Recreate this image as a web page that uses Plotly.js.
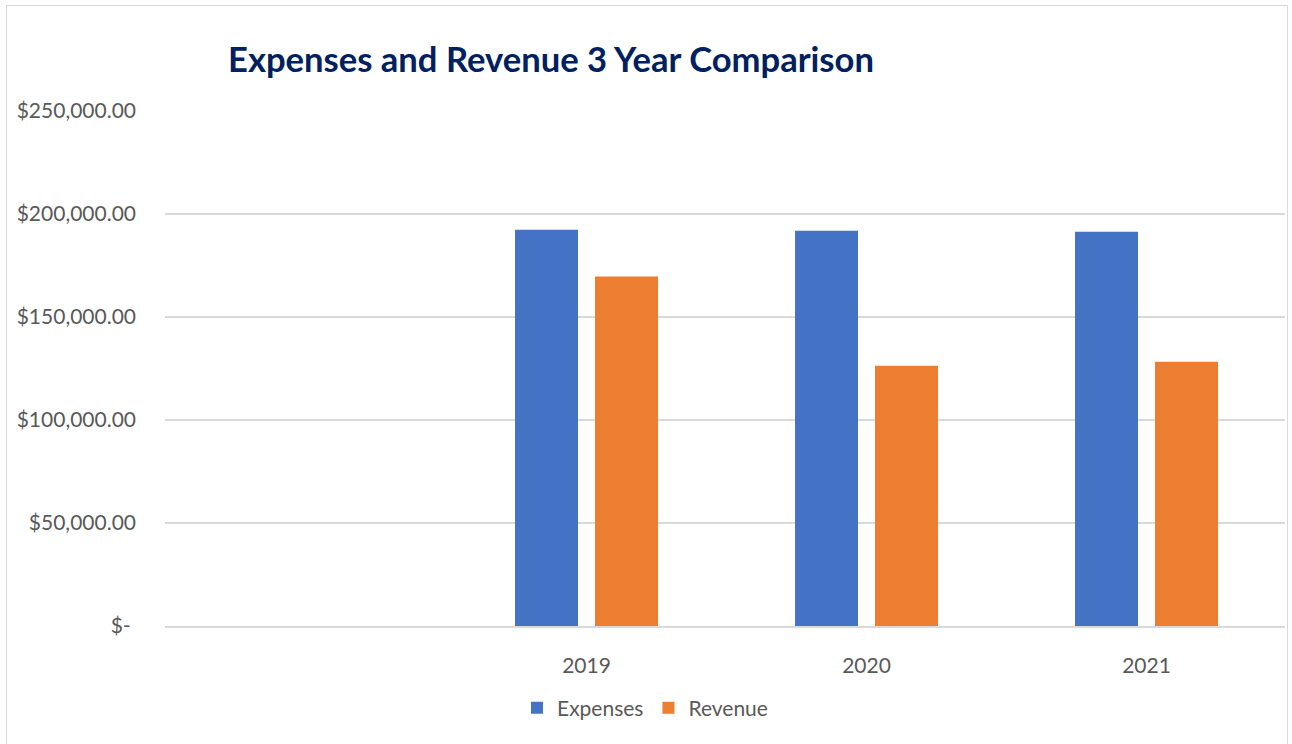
<!DOCTYPE html>
<html>
<head>
<meta charset="utf-8">
<script src="https://cdn.plot.ly/plotly-3.0.1.min.js"></script>
<style>
  html, body { margin:0; padding:0; background:#fff; }
  #wrap { position:relative; width:1292px; height:744px; overflow:hidden; }
  #chart { position:absolute; left:0; top:0; width:1292px; height:744px; }
  #frame { position:absolute; left:6px; top:5px; width:1280px; height:800px; border:1.5px solid #d9d9d9; pointer-events:none; }
</style>
</head>
<body>
<div id="wrap"><div id="chart"></div><div id="frame"></div></div>
<script>
const years = ['2019', '2020', '2021'];
const expenses = [192400, 191900, 191400];
const revenue = [169700, 126300, 128300];
const yTickVals = [0, 50000, 100000, 150000, 200000, 250000];
const yTickText = ['$-\u00a0', '$50,000.00', '$100,000.00', '$150,000.00', '$200,000.00', '$250,000.00'];

const font = 'Lato, "Open Sans", sans-serif';
const traces = [
  { type:'bar', name:'Expenses', x:years, y:expenses, marker:{color:'#4472C4'}, hoverinfo:'none' },
  { type:'bar', name:'Revenue', x:years, y:revenue, marker:{color:'#ED7D31'}, hoverinfo:'none' }
];
const layout = {
  width:1292, height:744,
  margin:{l:165, r:7, t:111, b:118},
  paper_bgcolor:'#fff', plot_bgcolor:'#fff',
  font:{family:font, size:21, color:'#595959'},
  title:{text:'<b>Expenses and Revenue 3 Year Comparison</b>', font:{family:font, size:34.6, color:'#002060'},
         x:228/1292, xanchor:'left', xref:'container', y:1-60/744, yanchor:'middle', yref:'container'},
  barmode:'group', bargap:0.4286, bargroupgap:0.2125,
  xaxis:{type:'category', categoryorder:'array', categoryarray:years, range:[-1.5054, 2.4946],
         showgrid:false, showline:true, linecolor:'#d9d9d9', linewidth:1.5, zeroline:false,
         ticks:'', tickfont:{family:font, size:21, color:'#595959'}, ticklabelstandoff:20},
  yaxis:{range:[0, 250000], tickvals:yTickVals, ticktext:yTickText, showgrid:true, gridcolor:'#d9d9d9', gridwidth:1.5,
         zeroline:false, showline:false, ticks:'', tickfont:{family:font, size:21, color:'#595959'}, ticklabelstandoff:28},
  legend:{orientation:'h', x:(645-165)/1120, xanchor:'center', y:(626-708)/515, yanchor:'middle',
          font:{family:font, size:21, color:'#595959'}},
  showlegend:true
};
Plotly.newPlot('chart', traces, layout, {staticPlot:true, displayModeBar:false});
</script>
</body>
</html>
